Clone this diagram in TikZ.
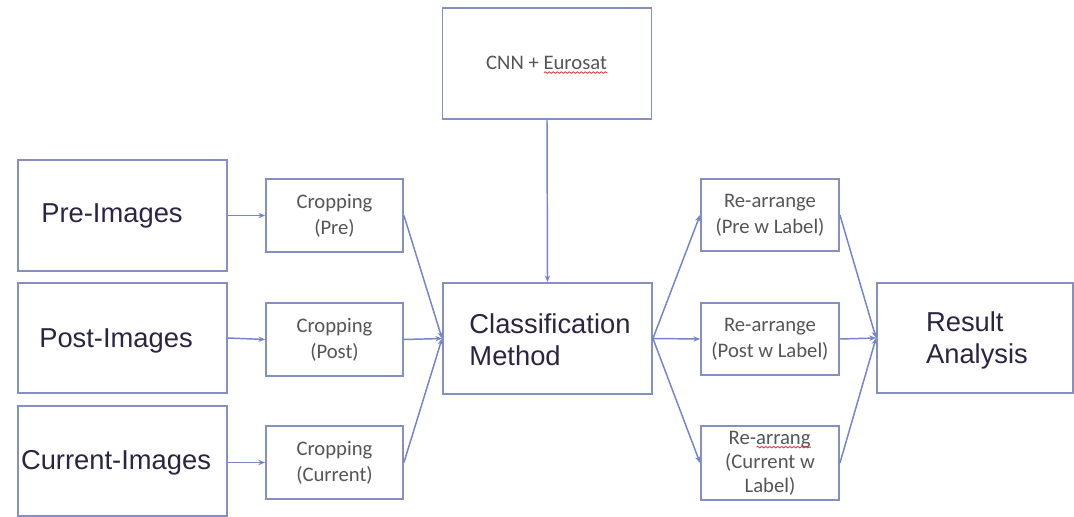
\documentclass[tikz,border=0pt]{standalone}
\usepackage{fontspec}
\setmainfont{Liberation Sans}
\newfontfamily\calib{Carlito}
\usetikzlibrary{arrows.meta,decorations.pathmorphing}
\definecolor{boxc}{HTML}{8590C0}
\definecolor{linec}{HTML}{7384CC}
\definecolor{bigtxt}{HTML}{2C2440}
\definecolor{smtxt}{HTML}{555555}
\definecolor{spell}{HTML}{E03040}
\newsavebox\spbox
\newcommand\spellerr[1]{\sbox\spbox{#1}\hbox{\rlap{\usebox\spbox}\tikz[baseline=0pt,x=1pt,y=1pt]{\path (0,0) -- (\wd\spbox,0);
  \draw[spell, line width=0.6pt, decorate, decoration={snake,amplitude=0.6pt,segment length=3pt}] (0,-2.2) -- (\wd\spbox,-2.2);}}}
\tikzset{
  box/.style={draw=boxc, line width=1.4pt, inner sep=0pt, fill=white},
  bigbox/.style={box, font=\fontsize{20.5}{24}\selectfont, text=bigtxt},
  smallbox/.style={box, font=\calib\fontsize{15.5}{19.5}\selectfont, text=smtxt, align=center},
  conn/.style={draw=linec, line width=1.1pt, -{Stealth[length=5pt,width=4pt]}},
}
\begin{document}
\begin{tikzpicture}[x=0.75pt,y=-0.75pt]
\clip (0,0) rectangle (1074,517);
\fill[white] (0,0) rectangle (1074,517);
% big boxes
\node[bigbox, minimum width=156.75pt, minimum height=83.25pt] (cnn) at (547,63.5) {};
\node[font=\calib\fontsize{15.5}{19.5}\selectfont, text=smtxt] (cnntxt) at (547,65) {CNN + \spellerr{Eurosat}};
\node[bigbox, minimum width=156.75pt, minimum height=83.25pt] (pre) at (122.5,215.5) {};
\node[font=\fontsize{20.5}{24}\selectfont, text=bigtxt] (pretxt) at (112,215.5) {Pre-Images};
\node[bigbox, minimum width=156.75pt, minimum height=82.5pt] (post) at (122.5,338) {};
\node[font=\fontsize{20.5}{24}\selectfont, text=bigtxt] (posttxt) at (116,341) {Post-Images};
\node[bigbox, minimum width=156.75pt, minimum height=82.5pt] (cur) at (122.5,461) {};
\node[font=\fontsize{20.5}{24}\selectfont, text=bigtxt] (curtxt) at (116,463) {Current-Images};
\node[bigbox, minimum width=156.75pt, minimum height=83.25pt] (cls) at (547.5,338.5) {};
\node[font=\fontsize{20.5}{24}\selectfont, text=bigtxt, align=left] (clstxt) at (550,340) {Classification\\Method};
\node[bigbox, minimum width=147pt, minimum height=82.5pt] (res) at (975,338) {};
\node[font=\fontsize{20.5}{24}\selectfont, text=bigtxt, align=left] (restxt) at (977,340) {Result\\Analysis};
% cropping
\node[smallbox, minimum width=102.75pt, minimum height=54.75pt] (cpre) at (334.5,215.5) {Cropping\\(Pre)};
\node[smallbox, minimum width=102.75pt, minimum height=54.75pt] (cpost) at (334.5,339.5) {Cropping\\(Post)};
\node[smallbox, minimum width=102.75pt, minimum height=54.75pt] (ccur) at (334.5,462.5) {Cropping\\(Current)};
% rearrange
\node[smallbox, minimum width=103.5pt, minimum height=54pt] (rpre) at (770,215) {Re-arrange\\(Pre w Label)};
\node[smallbox, minimum width=103.5pt, minimum height=54pt] (rpost) at (770,339) {Re-arrange\\(Post w Label)};
\node[smallbox, minimum width=103.5pt, minimum height=55.5pt, font=\calib\fontsize{15.5}{18}\selectfont] (rcur) at (770,463) {Re-\spellerr{arrang}\\(Current w\\Label)};
% connectors
\draw[conn] (pre.east) -- (cpre.west);
\draw[conn] (post.east) -- (cpost.west);
\draw[conn] (cur.east |- ccur.west) -- (ccur.west);
\draw[conn] (cpre.east) -- (cls.west);
\draw[conn] (cpost.east) -- (cls.west);
\draw[conn] (ccur.east) -- (cls.west);
\draw[conn] (cnn.south) -- (cls.north);
\draw[conn] (cls.east) -- (rpre.west);
\draw[conn] (cls.east) -- (rpost.west);
\draw[conn] (cls.east) -- (rcur.west);
\draw[conn] (rpre.east) -- (res.west);
\draw[conn] (rpost.east) -- (res.west);
\draw[conn] (rcur.east) -- (res.west);
\end{tikzpicture}
\end{document}
